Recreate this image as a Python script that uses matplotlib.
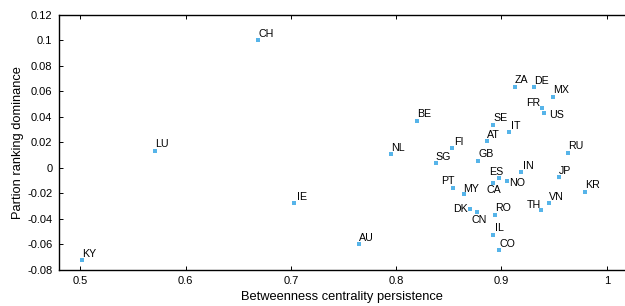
import matplotlib
matplotlib.use("Agg")
import matplotlib.pyplot as plt
from matplotlib.ticker import FuncFormatter

plt.rcParams["font.family"] = ["Liberation Sans", "DejaVu Sans"]
plt.rcParams["axes.unicode_minus"] = False

countries = ["KY", "LU", "CH", "IE", "AU", "NL", "BE", "SG", "FI", "PT",
             "ZA", "DE", "MX", "FR", "US", "SE", "IT", "AT", "RU", "GB",
             "IN", "ES", "NO", "JP", "CA", "KR", "MY", "VN", "TH", "DK",
             "CN", "RO", "IL", "CO"]
persistence = [0.502, 0.571, 0.669, 0.703, 0.765, 0.795, 0.820, 0.8375, 0.8527, 0.8535,
               0.9128, 0.9309, 0.9489, 0.9382, 0.9404, 0.8922, 0.9071, 0.8865, 0.9629, 0.878,
               0.9182, 0.8973, 0.9049, 0.9544, 0.8916, 0.9793, 0.8644, 0.9454, 0.9378, 0.8698,
               0.8764, 0.8938, 0.8916, 0.8979]
dominance = [-0.0721, 0.0136, 0.100, -0.0274, -0.0599, 0.0107, 0.0371, 0.0036, 0.0154, -0.0155,
             0.0636, 0.0634, 0.0558, 0.0467, 0.0432, 0.0338, 0.0279, 0.0208, 0.0119, 0.0056,
             -0.0034, -0.0083, -0.0100, -0.0075, -0.0116, -0.0186, -0.0204, -0.0275, -0.0330, -0.0324,
             -0.0343, -0.0367, -0.0523, -0.0643]

# label placement in pixels: (dx, dy to baseline, ha), dy positive = up
PX = 0.72
label_pos = {
    "IT": (2.5, 3.3, "left"), "FI": (2.5, 3.3, "left"), "IN": (2.0, 3.3, "left"),
    "IL": (2.3, 3.7, "left"), "IE": (2.7, 3.3, "left"),
    "US": (5.0, -5.2, "left"), "NO": (2.7, -5.2, "left"),
    "FR": (-1.7, 2.3, "right"), "ES": (-9.3, 3.7, "left"), "PT": (-11.3, 3.3, "left"),
    "CA": (-6.0, -10.0, "left"), "TH": (-0.7, 2.3, "right"), "DK": (-2.3, -2.85, "right"),
    "CN": (-5.0, -11.0, "left"), "MY": (-0.7, 2.3, "left"),
}

fig = plt.figure(figsize=(6.25, 3.06), dpi=100)
ax = fig.add_axes([59.3 / 625, 36 / 306, 1 - 59.3 / 625, 255.3 / 306])

ax.plot(persistence, dominance, "s", color="#56b4e9", markersize=2.8, markeredgewidth=0)

for c, x, y in zip(countries, persistence, dominance):
    dx, dy, ha = label_pos.get(c, (0.0, 3.3, "left"))
    ax.annotate(c, (x, y), xytext=(dx * PX, dy * PX), textcoords="offset points",
                ha=ha, va="baseline", fontsize=7.7)

ax.set_xlim(0.48, 1.0173)
ax.set_ylim(-0.08, 0.12)
ax.set_xticks([0.5, 0.6, 0.7, 0.8, 0.9, 1.0])
ax.set_yticks([-0.08, -0.06, -0.04, -0.02, 0, 0.02, 0.04, 0.06, 0.08, 0.1, 0.12])
fmt = FuncFormatter(lambda v, p: "%g" % round(v, 4))
ax.xaxis.set_major_formatter(fmt)
ax.yaxis.set_major_formatter(fmt)
ax.tick_params(direction="in", length=3, width=0.7, labelsize=8, top=True, right=False)
ax.tick_params(axis="x", pad=4)
ax.tick_params(axis="y", pad=5)
ax.spines["right"].set_visible(False)
for s in ["left", "top", "bottom"]:
    ax.spines[s].set_linewidth(1.0)

ax.set_xlabel("Betweenness centrality persistence", fontsize=9.3, labelpad=4)
ax.set_ylabel("Partion ranking dominance", fontsize=9.3, labelpad=2)

fig.savefig("out.png", dpi=100)
